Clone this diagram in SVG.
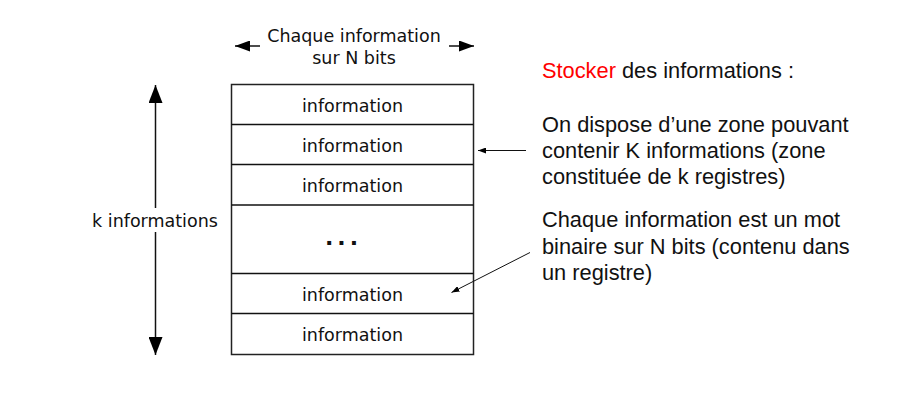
<svg xmlns="http://www.w3.org/2000/svg" width="908" height="404" viewBox="0 0 908 404">
<defs>
<style>
.v{font-family:"DejaVu Sans",Verdana,sans-serif;font-size:17.5px;fill:#111}
.a{font-family:"Liberation Sans",Arial,sans-serif;font-size:21.8px;fill:#111}
.box{fill:#fff;stroke:#222;stroke-width:1.5}
.ln{stroke:#111;stroke-width:1.5;fill:none}
.thin{stroke:#111;stroke-width:1;fill:none}
</style>
<marker id="big" viewBox="0 0 18 14" refX="18" refY="7" markerWidth="18" markerHeight="14" markerUnits="userSpaceOnUse" orient="auto-start-reverse"><path d="M0,0 L18,7 L0,14 Z" fill="#000"/></marker>
<marker id="mid" viewBox="0 0 15 11" refX="15" refY="5.5" markerWidth="15" markerHeight="11" markerUnits="userSpaceOnUse" orient="auto-start-reverse"><path d="M0,0 L15,5.5 L0,11 Z" fill="#000"/></marker>
<marker id="sm" viewBox="0 0 8 6" refX="8" refY="3" markerWidth="8" markerHeight="6" markerUnits="userSpaceOnUse" orient="auto"><path d="M0,0 L8,3 L0,6 Z" fill="#000"/></marker>
</defs>
<rect width="908" height="404" fill="#fff"/>
<g id="memory">
<rect class="box" x="231.5" y="84.5" width="242" height="270"/>
<line class="ln" x1="231.5" y1="124.5" x2="473.5" y2="124.5"/>
<line class="ln" x1="231.5" y1="164.5" x2="473.5" y2="164.5"/>
<line class="ln" x1="231.5" y1="205" x2="473.5" y2="205"/>
<line class="ln" x1="231.5" y1="273.5" x2="473.5" y2="273.5"/>
<line class="ln" x1="231.5" y1="313.5" x2="473.5" y2="313.5"/>
</g>
<g id="reg1"><text class="v" x="352.5" y="112" text-anchor="middle">information</text></g>
<g id="reg2"><text class="v" x="352.5" y="152" text-anchor="middle">information</text></g>
<g id="reg3"><text class="v" x="352.5" y="192" text-anchor="middle">information</text></g>
<g id="ellipsis"><text x="325" y="244.5" font-family="DejaVu Sans,Verdana,sans-serif" font-weight="bold" font-size="22" letter-spacing="4" fill="#111">...</text></g>
<g id="reg5"><text class="v" x="352.5" y="301" text-anchor="middle">information</text></g>
<g id="reg6"><text class="v" x="352.5" y="341" text-anchor="middle">information</text></g>
<g id="width-label">
<text class="v" x="354" y="42" text-anchor="middle">Chaque information</text>
<text class="v" x="354" y="63.5" text-anchor="middle">sur N bits</text>
</g>
<g id="k-label"><text class="v" x="155" y="227" text-anchor="middle">k informations</text></g>
<g id="desc">
<text class="a" x="542" y="78"><tspan fill="#ff0000">Stocker</tspan> des informations :</text>
<text class="a" x="542" y="131.5">On dispose d’une zone pouvant</text>
<text class="a" x="542" y="157.5">contenir K informations (zone</text>
<text class="a" x="542" y="183.5">constituée de k registres)</text>
<text class="a" x="542" y="227">Chaque information est un mot</text>
<text class="a" x="542" y="253.5">binaire sur N bits (contenu dans</text>
<text class="a" x="542" y="279.5">un registre)</text>
</g>
<g id="connectors">
<line class="ln" x1="260" y1="46" x2="235" y2="46" marker-end="url(#mid)"/>
<line class="ln" x1="449" y1="46" x2="474" y2="46" marker-end="url(#mid)"/>
<line class="ln" x1="155.5" y1="208" x2="155.5" y2="85" marker-end="url(#big)"/>
<line class="ln" x1="155.5" y1="232" x2="155.5" y2="355" marker-end="url(#big)"/>
<line class="thin" x1="526" y1="150.5" x2="478" y2="150.5" marker-end="url(#sm)"/>
<line class="thin" x1="530" y1="252.5" x2="451.5" y2="292.5" marker-end="url(#sm)"/>
</g>
</svg>
